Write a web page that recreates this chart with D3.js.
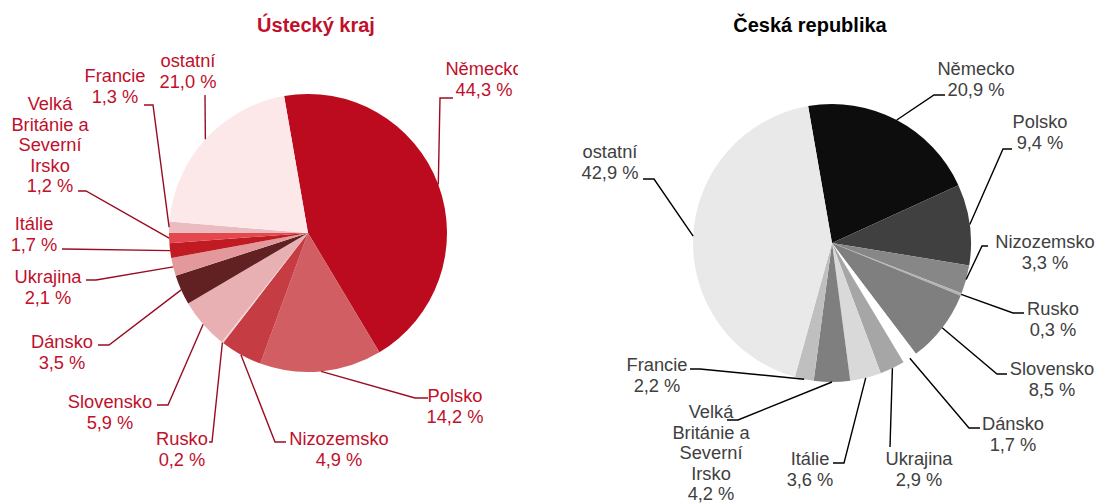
<!DOCTYPE html>
<html>
<head>
<meta charset="utf-8">
<script src="https://cdn.jsdelivr.net/npm/d3@7"></script>
<style>
  body { margin: 0; background: #fff; }
  svg { display: block; font-family: "Liberation Sans", Arial, sans-serif; }
</style>
</head>
<body>
<div id="chart"></div>
<script>
var countries = ["Německo", "Polsko", "Nizozemsko", "Rusko", "Slovensko", "Dánsko",
    "Ukrajina", "Itálie", "Velká\nBritánie a\nSeverní\nIrsko", "Francie", "ostatní"];
var usteckyValues = [44.3, 14.2, 4.9, 0.2, 5.9, 3.5, 2.1, 1.7, 1.2, 1.3, 21.0];
var czValues = [20.9, 9.4, 3.3, 0.3, 8.5, 1.7, 2.9, 3.6, 4.2, 2.2, 42.9];

var usteckyColors = ["#bc0a1e", "#d05e63", "#c53c43", "#f4d2d2", "#e8b0b2", "#612122",
    "#e3999c", "#c01a22", "#e5474f", "#ebbcbf", "#fde8e9"];
var czColors = ["#0d0d0d", "#404040", "#878787", "#b4b4b4", "#7f7f7f", "#ffffff",
    "#a6a6a6", "#d9d9d9", "#7f7f7f", "#bfbfbf", "#e9e9e9"];

// label placement: text centre, first baseline, elbow of leader, stub end
var usteckyLabels = [
    [484, 75, 440, 98, 453, 98], [455, 402, 415, 398, 428, 398], [339, 445, 275, 442, 286, 442],
    [182, 445, 212, 442, 209, 442], [110, 408, 168, 405, 157, 405], [62, 348, 109, 345, 98, 345],
    [48, 283, 96, 280, 86, 280], [34, 230, 64, 249, 62, 249], [50, 110, 86, 191, 78, 191],
    [115, 82, 153, 105, 144, 105], [188, 67, 205, 95, 205, 95]
];
var czLabels = [
    [976, 75, 934, 95, 945, 95], [1040, 128, 1003, 149, 1012, 149], [1045, 248, 982, 246, 988, 246],
    [1053, 315, 1013, 313, 1024, 313], [1052, 375, 997, 374, 1007, 374], [1013, 430, 969, 428, 980, 428],
    [919, 465, 890, 447, 890, 447], [810, 465, 844, 463, 833, 463], [711, 418, 738, 420, 727, 420],
    [657, 371, 700, 369, 690, 369], [610, 158, 654, 179, 643, 179]
];

var width = 1105, height = 503;
var radius = 139;
var lineH = 20.5;
var start = -9.9 * Math.PI / 180;

var svg = d3.select("#chart")
    .append("svg")
    .attr("width", width)
    .attr("height", height);

svg.append("clipPath")
    .attr("id", "leftClip")
    .append("rect")
    .attr("x", 0).attr("y", 0)
    .attr("width", 518).attr("height", height);

function fmt(v) {
    return v.toFixed(1).replace(".", ",") + " %";
}

function drawPie(g, cx, cy, values, colors, labels, textColor, lineColor) {
    var pie = d3.pie()
        .sort(null)
        .startAngle(start)
        .endAngle(start + 2 * Math.PI);

    var arc = d3.arc().innerRadius(0).outerRadius(radius);
    var edge = d3.arc().innerRadius(radius).outerRadius(radius);

    var arcs = pie(values);

    var pieG = g.append("g")
        .attr("transform", "translate(" + cx + "," + cy + ")");

    pieG.selectAll("path")
        .data(arcs)
        .enter()
        .append("path")
        .attr("d", arc)
        .attr("fill", function(d, i) { return colors[i]; });

    // leader lines
    g.selectAll(".leader")
        .data(arcs)
        .enter()
        .append("polyline")
        .attr("class", "leader")
        .attr("fill", "none")
        .attr("stroke", lineColor)
        .attr("stroke-width", 1.4)
        .attr("points", function(d, i) {
            var p = edge.centroid(d);
            var l = labels[i];
            return (cx + p[0]) + "," + (cy + p[1]) + " " + l[2] + "," + l[3] + " " + l[4] + "," + l[5];
        });

    var txt = g.selectAll(".lbl")
        .data(arcs)
        .enter()
        .append("text")
        .attr("class", "lbl")
        .attr("text-anchor", "middle")
        .attr("font-size", 18.3)
        .attr("fill", textColor);

    txt.each(function(d, i) {
        var lines = countries[i].split("\n").concat([fmt(d.data)]);
        var t = d3.select(this);
        lines.forEach(function(s, k) {
            t.append("tspan")
                .attr("x", labels[i][0])
                .attr("y", labels[i][1] + k * lineH)
                .text(s);
        });
    });
}

var left = svg.append("g").attr("clip-path", "url(#leftClip)");
var right = svg.append("g");

left.append("text")
    .attr("x", 316)
    .attr("y", 32)
    .attr("text-anchor", "middle")
    .attr("font-size", 20)
    .attr("font-weight", "bold")
    .attr("fill", "#c0102b")
    .text("Ústecký kraj");

right.append("text")
    .attr("x", 810)
    .attr("y", 32)
    .attr("text-anchor", "middle")
    .attr("font-size", 20)
    .attr("font-weight", "bold")
    .attr("fill", "#000")
    .text("Česká republika");

drawPie(left, 308, 233, usteckyValues, usteckyColors, usteckyLabels, "#c0102b", "#9a0c22");
drawPie(right, 832, 243, czValues, czColors, czLabels, "#404040", "#000");
</script>
</body>
</html>
